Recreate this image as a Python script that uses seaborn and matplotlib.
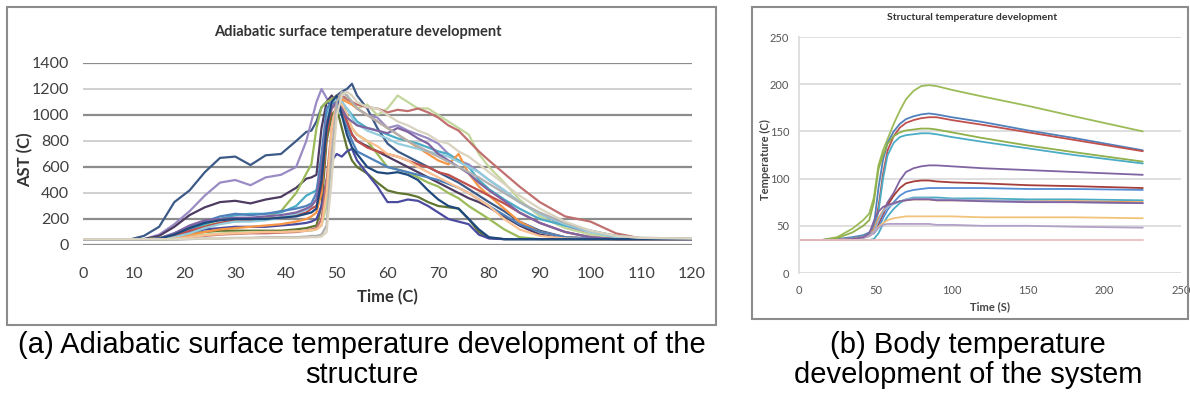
import matplotlib
matplotlib.use('Agg')
import matplotlib.pyplot as plt
import seaborn as sns
import pandas as pd
from matplotlib.patches import Rectangle

## DATA (a): adiabatic surface temperature, shared time grid
ast_time = [0, 9, 12, 15, 18, 21, 24, 27, 30, 33,
            36, 39, 42, 44, 45, 46, 47, 48, 49, 50,
            51, 52, 53, 54, 56, 58, 60, 62, 64, 66,
            68, 70, 72, 74, 76, 78, 80, 83, 86, 90,
            95, 100, 105, 110, 120]

a01 = [40, 40, 70, 140, 330, 420, 560, 670, 680, 615,
       690, 700, 800, 870, 880, 950, 1060, 1100, 1080, 1150,
       1180, 1200, 1240, 1150, 1050, 900, 780, 720, 680, 640,
       600, 560, 520, 480, 430, 380, 330, 260, 180, 110,
       60, 50, 45, 45, 45]
a02 = [40, 40, 45, 80, 160, 260, 380, 480, 500, 460,
       520, 540, 600, 800, 950, 1100, 1200, 1130, 1080, 1100,
       1120, 1150, 1100, 1050, 1000, 980, 900, 920, 880, 850,
       820, 780, 700, 650, 620, 560, 500, 420, 330, 240,
       150, 80, 55, 45, 45]
a03 = [40, 40, 45, 70, 140, 230, 290, 330, 340, 320,
       350, 370, 440, 510, 520, 540, 900, 1100, 1150, 1100,
       1050, 950, 850, 800, 760, 720, 680, 640, 600, 560,
       520, 480, 440, 400, 360, 330, 290, 220, 150, 80,
       50, 45, 45, 45, 45]
a04 = [40, 40, 42, 55, 80, 120, 150, 170, 180, 190,
       210, 260, 400, 550, 620, 900, 1060, 1100, 1120, 1150,
       1100, 1000, 900, 850, 800, 700, 600, 580, 560, 520,
       480, 450, 400, 360, 300, 250, 200, 120, 60, 45,
       45, 45, 45, 45, 45]
a05 = [40, 40, 40, 50, 70, 90, 100, 110, 110, 110,
       110, 110, 120, 130, 140, 150, 300, 800, 1000, 1050,
       900, 750, 650, 600, 550, 480, 420, 400, 390, 370,
       330, 300, 290, 280, 200, 100, 55, 45, 45, 45,
       45, 45, 45, 45, 45]
a06 = [40, 40, 40, 50, 70, 100, 120, 130, 140, 140,
       140, 150, 160, 170, 180, 200, 300, 500, 650, 700,
       680, 720, 740, 650, 550, 450, 330, 330, 350, 340,
       300, 250, 200, 180, 160, 80, 50, 45, 45, 45,
       45, 45, 45, 45, 45]
a07 = [40, 40, 40, 45, 55, 70, 80, 90, 95, 100,
       100, 100, 105, 110, 110, 120, 150, 300, 700, 1000,
       1100, 1150, 1100, 1050, 1080, 1000, 1050, 1150, 1100, 1050,
       1050, 1000, 950, 900, 850, 700, 600, 480, 350, 220,
       130, 80, 55, 45, 45]
a08 = [40, 40, 40, 42, 50, 60, 70, 80, 85, 90,
       90, 95, 100, 110, 120, 130, 200, 500, 900, 1100,
       1150, 1120, 1100, 1080, 1060, 1050, 1020, 1040, 1030, 1050,
       1020, 980, 920, 880, 800, 720, 650, 550, 450, 330,
       220, 180, 90, 50, 45]
a09 = [40, 40, 40, 50, 80, 120, 160, 200, 230, 240,
       240, 250, 300, 380, 400, 420, 600, 1000, 1100, 1150,
       1100, 1050, 1000, 950, 900, 880, 850, 820, 800, 780,
       750, 720, 700, 650, 600, 500, 430, 350, 280, 200,
       150, 110, 70, 50, 45]
a10 = [40, 40, 40, 45, 60, 80, 100, 120, 130, 140,
       150, 160, 180, 200, 220, 250, 400, 900, 1100, 1150,
       1120, 1100, 1080, 1050, 1000, 950, 900, 850, 800, 750,
       700, 650, 620, 700, 550, 450, 380, 280, 180, 100,
       60, 50, 45, 45, 45]
a11 = [40, 40, 40, 45, 70, 110, 140, 170, 190, 190,
       200, 210, 230, 250, 280, 300, 450, 850, 1050, 1100,
       1050, 950, 850, 800, 750, 720, 700, 680, 650, 620,
       600, 560, 540, 500, 460, 420, 380, 320, 250, 170,
       100, 60, 45, 45, 45]
a12 = [40, 40, 40, 50, 90, 140, 180, 220, 240, 230,
       240, 260, 280, 300, 320, 400, 700, 1050, 1100, 1080,
       1000, 900, 800, 720, 680, 640, 600, 580, 560, 540,
       520, 500, 470, 440, 400, 350, 300, 230, 160, 100,
       60, 50, 45, 45, 45]
a13 = [40, 40, 40, 45, 60, 90, 130, 160, 180, 180,
       190, 210, 240, 270, 300, 350, 550, 950, 1100, 1120,
       1100, 1050, 980, 930, 880, 850, 820, 780, 760, 740,
       720, 700, 680, 640, 600, 560, 500, 420, 330, 240,
       160, 100, 60, 50, 45]
a14 = [40, 40, 40, 42, 50, 60, 75, 85, 90, 95,
       100, 100, 105, 110, 115, 120, 150, 400, 900, 1100,
       1080, 1000, 900, 850, 800, 760, 700, 680, 650, 600,
       560, 520, 480, 440, 400, 350, 300, 200, 120, 70,
       50, 45, 45, 45, 45]
a15 = [40, 40, 40, 50, 90, 150, 190, 200, 210, 210,
       220, 230, 250, 280, 300, 350, 600, 950, 1050, 1100,
       1050, 980, 950, 920, 900, 880, 860, 900, 870, 820,
       780, 700, 650, 600, 550, 480, 420, 340, 250, 170,
       100, 60, 45, 45, 45]
a16 = [40, 40, 40, 48, 80, 130, 170, 190, 200, 200,
       200, 210, 220, 240, 250, 280, 500, 900, 1100, 1150,
       1000, 850, 750, 700, 600, 560, 550, 560, 540, 500,
       420, 350, 300, 280, 200, 120, 60, 45, 45, 45,
       45, 45, 45, 45, 45]
a17 = [40, 40, 40, 40, 40, 45, 50, 50, 55, 55,
       60, 60, 60, 65, 70, 70, 80, 150, 700, 1100,
       1180, 1150, 1100, 1050, 1000, 950, 900, 850, 800, 760,
       720, 680, 640, 600, 560, 520, 470, 400, 330, 250,
       170, 110, 70, 55, 50]
a18 = [45, 45, 45, 45, 45, 48, 50, 50, 52, 52,
       55, 55, 55, 58, 60, 60, 65, 100, 500, 1000,
       1150, 1180, 1150, 1100, 1060, 1050, 1000, 950, 920, 880,
       850, 800, 780, 720, 680, 620, 560, 470, 380, 280,
       180, 110, 70, 55, 50]

ast_series = ['a01', 'a02', 'a03', 'a04', 'a05', 'a06', 'a07', 'a08', 'a09',
              'a10', 'a11', 'a12', 'a13', 'a14', 'a15', 'a16', 'a17', 'a18']
ast_values = [a01, a02, a03, a04, a05, a06, a07, a08, a09,
              a10, a11, a12, a13, a14, a15, a16, a17, a18]
ast_colors = ['#3C5A87', '#9A8BC4', '#4D3B62', '#9BBB59', '#5F7530', '#4B4BA0',
              '#C3D69B', '#C0706E', '#4BACC6', '#F79646', '#C0504D', '#4F81BD',
              '#93CDDD', '#FAC090', '#8064A2', '#1F497D', '#B0B0B0', '#D9D3C0']

## DATA (b): structural temperature, shared time grid
body_time = [0, 15, 25, 35, 42, 46, 49, 52, 55, 58, 62,
             66, 70, 75, 80, 85, 90, 100, 120, 150, 180, 225]

b01 = [35, 35, 38, 47, 56, 63, 80, 114, 130, 142, 158, 172, 184, 193, 198, 199, 198, 194, 187, 177, 166, 150]
b02 = [35, 35, 36, 38, 40, 43, 50, 90, 120, 138, 150, 158, 163, 166, 168, 169, 168, 165, 160, 151, 143, 130]
b03 = [35, 35, 35, 37, 39, 42, 47, 70, 105, 130, 145, 154, 159, 162, 164, 165, 165, 162, 157, 149, 141, 129]
b04 = [35, 35, 37, 43, 50, 56, 75, 110, 125, 137, 145, 149, 151, 152, 153, 153, 152, 149, 143, 135, 128, 118]
b05 = [35, 35, 35, 37, 39, 42, 46, 65, 100, 125, 138, 144, 146, 147, 148, 148, 147, 144, 139, 132, 125, 116]
b06 = [35, 35, 35, 36, 38, 40, 43, 52, 65, 75, 85, 98, 107, 111, 113, 114, 114, 113, 111, 109, 107, 104]
b07 = [35, 35, 35, 36, 38, 40, 43, 52, 62, 72, 82, 90, 95, 97, 98, 98, 97, 96, 95, 93, 92, 90]
b08 = [35, 35, 35, 36, 38, 40, 42, 48, 58, 67, 75, 82, 86, 88, 89, 90, 90, 90, 90, 89, 89, 88]
b09 = [35, 35, 35, 35, 35, 35, 36, 42, 52, 60, 68, 74, 78, 80, 80, 80, 80, 79, 79, 78, 78, 77]
b10 = [35, 35, 35, 36, 38, 40, 46, 58, 66, 70, 74, 76, 77, 78, 78, 78, 77, 77, 77, 76, 76, 75]
b11 = [35, 35, 35, 36, 38, 40, 44, 55, 65, 70, 73, 76, 78, 79, 79, 79, 78, 78, 77, 76, 75, 74]
b12 = [35, 35, 35, 36, 37, 39, 43, 49, 53, 56, 58, 59, 60, 60, 60, 60, 60, 60, 59, 59, 59, 58]
b13 = [35, 35, 35, 36, 37, 39, 43, 48, 51, 52, 52, 52, 52, 52, 52, 52, 51, 51, 50, 50, 49, 48]
b14 = [35, 35, 35, 36, 38, 42, 55, 65, 70, 72, 74, 76, 77, 78, 78, 78, 77, 77, 76, 75, 75, 74]
b15 = [35, 35, 35, 35, 35, 35, 35, 35, 35, 35, 35, 35, 35, 35, 35, 35, 35, 35, 35, 35, 35, 35]

body_series = ['b01', 'b02', 'b03', 'b04', 'b05', 'b06', 'b07', 'b08',
               'b09', 'b10', 'b11', 'b12', 'b13', 'b14', 'b15']
body_values = [b01, b02, b03, b04, b05, b06, b07, b08,
               b09, b10, b11, b12, b13, b14, b15]
body_colors = ['#9BBB59', '#4F81BD', '#C0504D', '#8FB04A', '#4BACC6', '#8064A2',
               '#A53D3A', '#558ED5', '#4BACC6', '#F79646', '#95B3D7', '#F2C47A',
               '#B3A2C7', '#8064A2', '#EBBFBE']


def long_frame(t, names, values):
    parts = [pd.DataFrame({'t': t, 'v': v, 's': n}) for n, v in zip(names, values)]
    return pd.concat(parts, ignore_index=True)


W, H = 1190, 397
def fx(px):
    return px / W
def fy(py):
    return 1 - py / H

sns.set_style('white')
plt.rcParams['font.family'] = ['Lato', 'DejaVu Sans']

fig = plt.figure(figsize=(W / 100, H / 100), dpi=100)

# frames around both charts
fig.patches.append(Rectangle((fx(7), fy(325)), fx(716) - fx(7), fy(7) - fy(325),
                             transform=fig.transFigure, fill=False, ec='#8C8C8C', lw=1.5))
fig.patches.append(Rectangle((fx(752), fy(319)), fx(1188) - fx(752), fy(7) - fy(319),
                             transform=fig.transFigure, fill=False, ec='#8C8C8C', lw=1.5))

## (a)
ax1 = fig.add_axes([fx(83), fy(245), fx(692) - fx(83), fy(63) - fy(245)])
df_a = long_frame(ast_time, ast_series, ast_values)
sns.lineplot(data=df_a, x='t', y='v', hue='s', hue_order=ast_series,
             palette=dict(zip(ast_series, ast_colors)), estimator=None, sort=False,
             legend=False, lw=1.6, ax=ax1)
ax1.set_xlim(0, 120)
ax1.set_ylim(0, 1400)
ax1.set_xticks(range(0, 121, 10))
ax1.set_yticks(range(0, 1401, 200))
ax1.grid(axis='y')
for i, gl in enumerate(ax1.get_ygridlines()):
    if i in (2, 4, 6):
        gl.set_color('#C8C8C8'); gl.set_linewidth(1.2)
    else:
        gl.set_color('#8C8C8C'); gl.set_linewidth(1.6)
ax1.set_axisbelow(True)
for s in ax1.spines.values():
    s.set_visible(False)
ax1.tick_params(length=0, labelsize=11.5, colors='#404040')
ax1.tick_params(axis='y', pad=10)
ax1.tick_params(axis='x', pad=16)
ax1.set_xlabel('')
ax1.set_ylabel('')
fig.text(fx(358), fy(32), 'Adiabatic surface temperature development', ha='center', va='center',
         fontsize=10.5, fontweight='bold', color='#333333')
fig.text(fx(387), fy(297), 'Time (C)', ha='center', va='center', fontsize=12,
         fontweight='bold', color='#333333')
fig.text(fx(25), fy(160), 'AST (C)', ha='center', va='center', rotation=90,
         fontsize=12, fontweight='bold', color='#333333')

## (b)
ax2 = fig.add_axes([fx(799), fy(273), fx(1181) - fx(799), fy(37) - fy(273)])
df_b = long_frame(body_time, body_series, body_values)
sns.lineplot(data=df_b, x='t', y='v', hue='s', hue_order=body_series,
             palette=dict(zip(body_series, body_colors)), estimator=None, sort=False,
             legend=False, lw=1.3, ax=ax2)
ax2.set_xlim(0, 250)
ax2.set_ylim(0, 250)
ax2.set_xticks(range(0, 251, 50))
ax2.set_yticks(range(0, 251, 50))
ax2.grid(axis='y', color='#D9D9D9', lw=1.2)
ax2.set_axisbelow(True)
for k, s in ax2.spines.items():
    s.set_visible(k == 'left')
ax2.spines['left'].set_color('#D9D9D9')
ax2.spines['left'].set_linewidth(1.2)
ax2.tick_params(length=0, labelsize=8, colors='#555555')
ax2.tick_params(axis='y', pad=7)
ax2.tick_params(axis='x', pad=9)
ax2.set_xlabel('')
ax2.set_ylabel('')
fig.text(fx(972), fy(17), 'Structural temperature development', ha='center', va='center',
         fontsize=7.5, fontweight='bold', color='#333333')
fig.text(fx(990), fy(307), 'Time (S)', ha='center', va='center', fontsize=8,
         fontweight='bold', color='#444444')
fig.text(fx(765), fy(160), 'Temperature (C)', ha='center', va='center', rotation=90,
         fontsize=8, fontweight='bold', color='#444444')

## captions
cap = dict(ha='center', va='baseline', fontsize=21, family=['Liberation Sans', 'DejaVu Sans'], color='black')
fig.text(fx(362), fy(353), '(a) Adiabatic surface temperature development of the', **cap)
fig.text(fx(362), fy(383), 'structure', **cap)
fig.text(fx(968), fy(353), '(b) Body temperature', **cap)
fig.text(fx(968), fy(383), 'development of the system', **cap)

fig.savefig('out.png', dpi=100)
